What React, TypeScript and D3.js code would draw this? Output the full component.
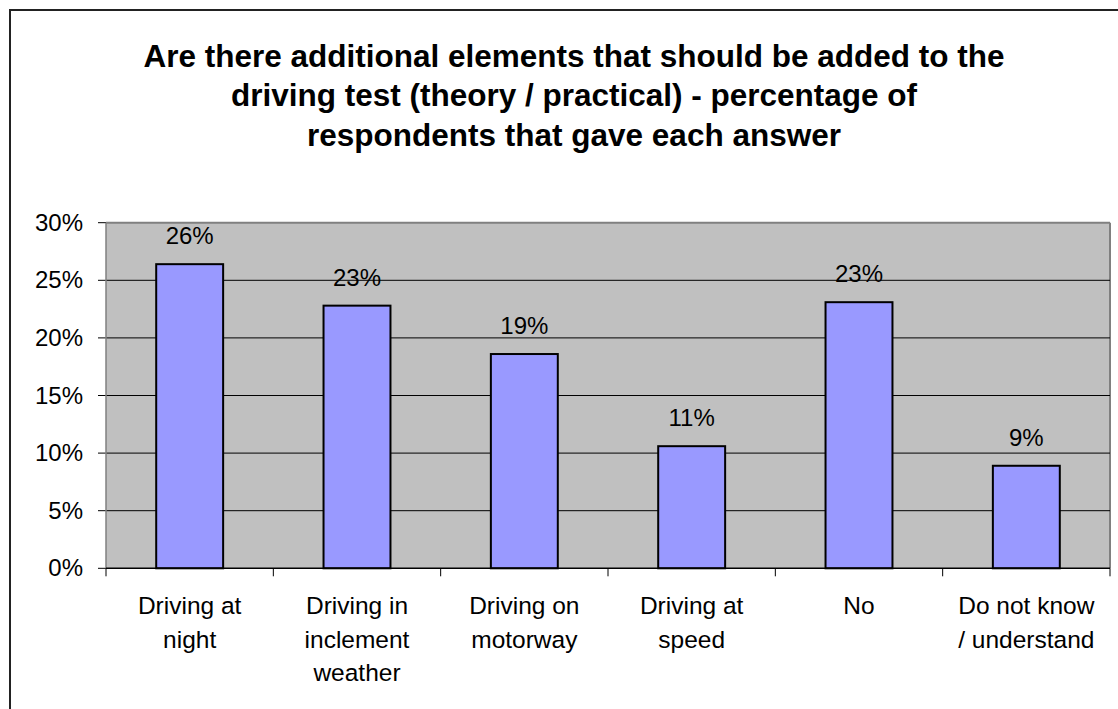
import React from "react";
import { scaleBand, scaleLinear } from "d3";

// data
const categories = [
  "Driving at night",
  "Driving in inclement weather",
  "Driving on motorway",
  "Driving at speed",
  "No",
  "Do not know / understand",
];
const categoryLines = [
  ["Driving at", "night"],
  ["Driving in", "inclement", "weather"],
  ["Driving on", "motorway"],
  ["Driving at", "speed"],
  ["No"],
  ["Do not know", "/ understand"],
];
const values = [0.264, 0.228, 0.186, 0.106, 0.231, 0.089];
const yTicks = [0, 0.05, 0.1, 0.15, 0.2, 0.25, 0.3];
const titleLines = [
  "Are there additional elements that should be added to the",
  "driving test (theory / practical) - percentage of",
  "respondents that gave each answer",
];

const WIDTH = 1118;
const HEIGHT = 709;
const LEFT = 106;
const RIGHT = 1110;
const TOP = 222.7;
const BOTTOM = 568.3;
const FONT = "Liberation Sans, Arial, sans-serif";

const App = () => {
  const yScale = scaleLinear().domain([0, 0.3]).range([BOTTOM, TOP]);
  const xScale = scaleBand()
    .domain(categories)
    .range([LEFT, RIGHT])
    .paddingInner(0.6)
    .paddingOuter(0.3);
  const step = xScale.step();

  return (
    <svg
      width={WIDTH}
      height={HEIGHT}
      style={{ position: "absolute", left: 0, top: 0, background: "#fff" }}
      fontFamily={FONT}
    >
      {/* chart border, runs off the page */}
      <rect x={10} y={10} width={1130} height={720} fill="none" stroke="#222" strokeWidth={2} />

      {/* title */}
      {titleLines.map((t, i) => (
        <text
          key={i}
          x={574}
          y={67 + i * 39.3}
          textAnchor="middle"
          fontSize={31.5}
          fontWeight="bold"
          fill="#000"
        >
          {t}
        </text>
      ))}

      {/* plot area */}
      <rect x={LEFT} y={TOP} width={RIGHT - LEFT} height={BOTTOM - TOP} fill="#c0c0c0" />
      <line x1={LEFT} x2={RIGHT} y1={TOP} y2={TOP} stroke="#808080" strokeWidth={2} />
      <line x1={RIGHT} x2={RIGHT} y1={TOP} y2={BOTTOM} stroke="#808080" strokeWidth={2} />

      {/* gridlines + y ticks */}
      {yTicks.map((t) => (
        <g key={t}>
          {t > 0 && t < 0.3 && (
            <line x1={LEFT} x2={RIGHT} y1={yScale(t)} y2={yScale(t)} stroke="#000" strokeWidth={1} />
          )}
          <line x1={LEFT - 8} x2={LEFT} y1={yScale(t)} y2={yScale(t)} stroke="#000" strokeWidth={1} />
          <text x={83} y={yScale(t) + 8} textAnchor="end" fontSize={24} fill="#000">
            {Math.round(t * 100)}%
          </text>
        </g>
      ))}

      {/* bars */}
      {categories.map((c, i) => (
        <g key={c}>
          <rect
            x={xScale(c)!}
            y={yScale(values[i])}
            width={xScale.bandwidth()}
            height={BOTTOM - yScale(values[i])}
            fill="#9999ff"
            stroke="#000"
            strokeWidth={2}
          />
          <text
            x={xScale(c)! + xScale.bandwidth() / 2}
            y={yScale(values[i]) - 20}
            textAnchor="middle"
            fontSize={24}
            fill="#000"
          >
            {Math.round(values[i] * 100)}%
          </text>
        </g>
      ))}

      {/* axes */}
      <line x1={LEFT} x2={LEFT} y1={TOP} y2={BOTTOM} stroke="#808080" strokeWidth={1.5} />
      <line x1={LEFT} x2={RIGHT} y1={BOTTOM} y2={BOTTOM} stroke="#000" strokeWidth={1.5} />
      {categories.map((c, i) => (
        <line
          key={"t" + c}
          x1={LEFT + i * step}
          x2={LEFT + i * step}
          y1={BOTTOM}
          y2={BOTTOM + 8}
          stroke="#000"
        />
      ))}
      <line x1={RIGHT} x2={RIGHT} y1={BOTTOM} y2={BOTTOM + 8} stroke="#000" />

      {/* category labels */}
      {categories.map((c, i) => (
        <text
          key={"l" + c}
          textAnchor="middle"
          fontSize={24.5}
          fill="#000"
        >
          {categoryLines[i].map((line, j) => (
            <tspan key={j} x={LEFT + (i + 0.5) * step} y={614 + j * 33.5}>
              {line}
            </tspan>
          ))}
        </text>
      ))}
    </svg>
  );
};

export default App;
